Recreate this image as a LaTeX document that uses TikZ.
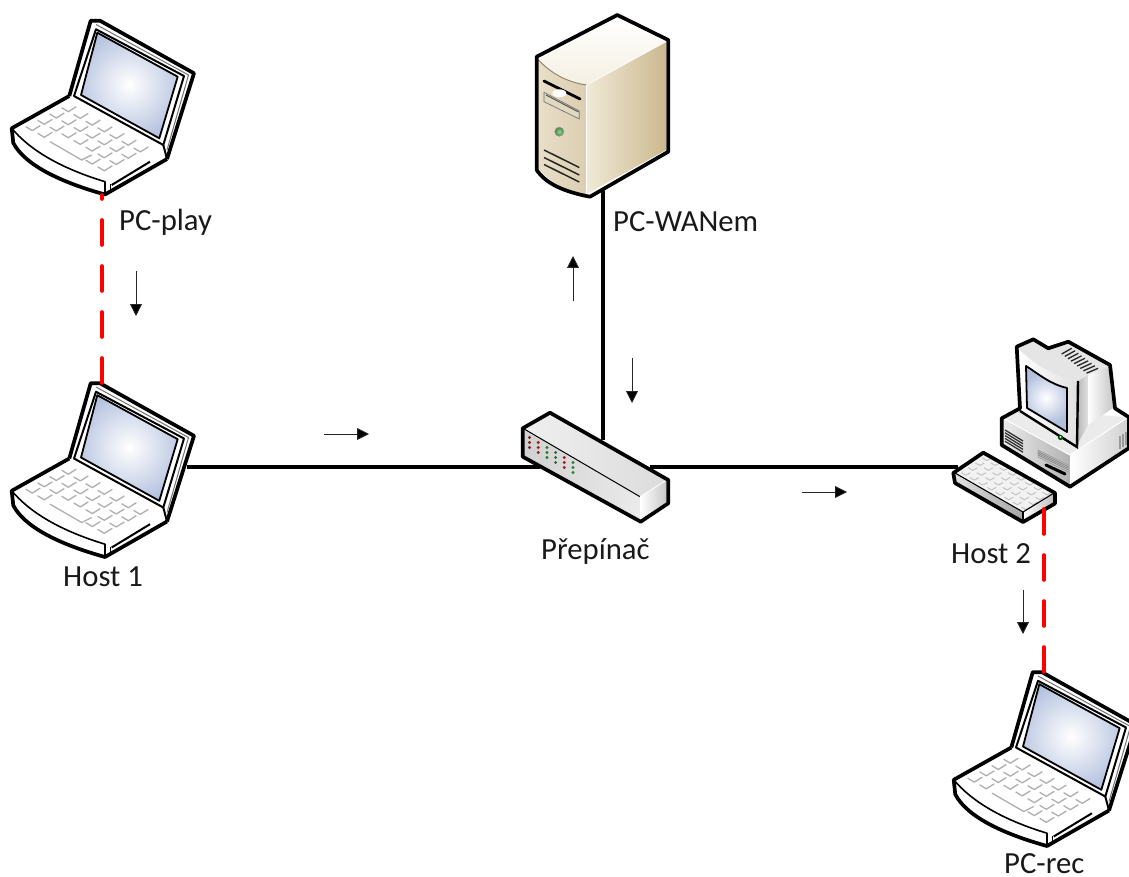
\documentclass[tikz,border=0pt]{standalone}
\usepackage{fontspec}
\setmainfont{Carlito}
\usetikzlibrary{arrows.meta}
\definecolor{keygrey}{RGB}{175,175,175}
\definecolor{tanA}{RGB}{240,233,214}
\definecolor{tanB}{RGB}{203,184,143}
\definecolor{screenblue}{RGB}{178,192,222}
\tikzset{
  blackline/.style={line width=3.2pt,black},
  redline/.style={line width=3.6pt,red,line cap=round,dash pattern=on 25pt off 21pt},
  flowarrow/.style={line width=0.9pt,draw=black!85,-{Triangle[length=12pt,width=12pt,fill=black]}},
  devlabel/.style={anchor=base west,inner sep=0pt,font=\fontsize{30.7pt}{34pt}\selectfont,text=black!90},
  outline/.style={line width=3.7pt,line join=round,draw=black},
  thin outline/.style={line width=2pt,line join=round,draw=black},
  keymark/.style={line width=1.3pt,draw=keygrey,line join=round},
  laptop/.pic={
    % silhouette
    \fill[white] (90.7,20.7)--(100,20.7)--(194,73.3)--(166.7,160)--(105,195)
      .. controls (60,182) and (25,165) .. (13.3,143)--(11.7,128.3)--(69.3,96)--cycle;
    % lid
    \draw[outline] (69.3,96)--(90.7,20.7)--(100,20.7)--(194,73.3)--(167,159);
    \draw[line width=1pt,black!55] (96,24.5)--(188.5,75)--(167,150);
    \draw[line width=2pt,line join=round] (74,96)--(96,29.3)--(184,76)--(163.3,145)--cycle;
    % screen
    \begin{scope}
      \clip (97.3,32.7)--(177.7,76.7)--(159.3,138.3)--(81,95)--cycle;
      \fill[screenblue] (70,20) rectangle (190,150);
      \shade[inner color=white,outer color=screenblue] (129,85) circle (58pt);
    \end{scope}
    \draw[line width=1.8pt,line join=round] (97.3,32.7)--(177.7,76.7)--(159.3,138.3)--(81,95)--cycle;
    % base
    \draw[line width=2pt] (163.3,145)--(167,159);
    \draw[outline] (69.3,96)--(11.7,128.3)--(13.3,143)
      .. controls (25,165) and (60,182) .. (105,194.5)--(167,159);
    \draw[line width=1.6pt,line join=round] (11.7,128.3) .. controls (30,150) and (60,168) .. (105,181.7)--(105,193);
    \draw[line width=2pt] (111.7,185)--(150,161.7);
    \draw[line width=1.4pt] (110.5,184)--(110.5,192);
    % keys
    \foreach \j in {0,1,2,3}{
      \foreach \i in {0,...,6}{
        \ifnum\j=3 \ifnum\i>1 \ifnum\i<5 \else
          \draw[keymark] ({68.3+12*\i-12*\j-6.7},{111.7+6.7*\i+6.3*\j-4})--++(6.7,4)--++(8,-5);
          \fi \else
          \draw[keymark] ({68.3+12*\i-12*\j-6.7},{111.7+6.7*\i+6.3*\j-4})--++(6.7,4)--++(8,-5);
          \fi
        \else
          \draw[keymark] ({68.3+12*\i-12*\j-6.7},{111.7+6.7*\i+6.3*\j-4})--++(6.7,4)--++(8,-5);
        \fi
      }
    }
    \draw[keymark] (50,141.7)--(81.7,160)--(91.7,155);
    \coordinate (-bottom) at (102,195);
  },
  server/.pic={
    \shade[top color=white,bottom color=tanA!70] (538.5,60)--(617,18)--(666,41.7)--(586.7,85)
      .. controls (565,82) and (550,72) .. (538.5,60)--cycle;
    \shade[left color=tanA!80!tanB,right color=tanB!70] (538.5,60) .. controls (550,72) and (565,82) .. (586.7,85)
      --(586.7,194) .. controls (565,190) and (548,182) .. (538.5,168)--cycle;
    \shade[left color=tanA,right color=tanB] (586.7,85)--(666,41.7)--(666,150)--(586.7,194)--cycle;
    \draw[line width=0.9pt,draw=tanB!70!black] (538.5,60) .. controls (550,72) and (565,82) .. (586.7,85);
    \draw[line width=0.9pt,white] (586.7,85)--(586.7,194);
    \draw[line width=0.7pt,white] (586.7,85)--(666,41.7);
    \fill[tanB!55,draw=black!55,line width=0.7pt] (544,92.3)--(579.3,111)--(579.3,119)--(544,101.7)--cycle;
    \draw[line width=0.9pt,black!70] (546,95)--(578.5,112);
    \draw[line width=2.8pt,line cap=round] (544,81)--(580,99);
    \fill[white!90!tanA] (559.3,93.3) ellipse (7pt and 4pt);
    \shade[inner color=green!35!white!85!black,outer color=green!30!black!70,draw=black!40,line width=.5pt] (559.3,131.7) circle (4.6pt);
    \foreach \yy in {150,157.5,164.5}{
      \draw[line width=1.5pt,black!85] (544,\yy)--(579.3,\yy+17.5);
    }
    \draw[outline] (536.7,56.7)--(617.3,15)--(668.3,40)--(668.3,151.7)--(590,196.7)
      .. controls (565,192) and (546,184) .. (536.7,170)--cycle;
  },
  desktop/.pic={
    % base
    \fill[white!92!black] (1003,418.3)--(1020,408.3)--(1128,417.3)--(1070,455)--cycle;
    \shade[left color=black!8,right color=black!30] (1003,418.3)--(1070,455)--(1070,486)--(1003,445)--cycle;
    \shade[left color=white,right color=black!18] (1070,455)--(1128,417.3)--(1128,447)--(1070,486)--cycle;
    \draw[line width=1pt,white] (1003,418.3)--(1070,455)--(1128,417.3);
    \foreach \t in {0,1,2,3,4}{
      \draw[line width=1.3pt,black!80] (1005,{430+2.8*\t})--(1023,{441+2.8*\t});
    }
    \fill[black!25,draw=black!40,line width=.5pt] (1038,450)--(1068,465)--(1068,472)--(1038,457)--cycle;
    \foreach \t in {1,2,3}{
      \draw[line width=.5pt,black!55] (1038,{450+1.6*\t})--(1068,{465+1.6*\t});
    }
    \draw[line width=3pt,line cap=round] (1046,465)--(1065,474);
    \foreach \t in {0,1,2}{
      \draw[line width=1.2pt,black!40] ({1120+3*\t},{436-2*\t})--({1120+3*\t},{449-2*\t});
    }
    % monitor
    \fill[white!90!black] (1017.5,348)--(1033.3,340)--(1048.3,349)--(1068.3,343)--(1108.5,366.5)--(1078,381)
      .. controls (1055,378) and (1035,365) .. (1017.5,348)--cycle;
    \shade[left color=black!28,right color=black!12] (1078,381)--(1088,375)--(1088,425)--(1077,445)--cycle;
    \shade[left color=white,right color=black!22] (1088,375)--(1108.5,366.5)--(1113,408)--(1088,425)--cycle;
    \shade[left color=white,right color=black!12] (1018.5,350) .. controls (1035,365) and (1055,378) .. (1078,381)
       --(1077,447)--(1020,411)--cycle;
    \begin{scope}
      \clip (1026,366) .. controls (1040,375) and (1050,384) .. (1067,388)--(1067,432)--(1027,408)--cycle;
      \fill[screenblue] (1020,360) rectangle (1075,435);
      \shade[inner color=white,outer color=screenblue] (1046,398) circle (26pt);
    \end{scope}
    \draw[line width=1.8pt,line join=round] (1026,366) .. controls (1040,375) and (1050,384) .. (1067,388)--(1067,432)--(1027,408)--cycle;
    \draw[line width=2.4pt] (1078,381)--(1077,447)--(1020,411);
    \fill[black!70!green] (1060.5,437.5) circle (2.6pt);
    \fill[white!70!green] (1060.5,437) circle (1.1pt);
    \foreach \t in {0,...,8}{
      \draw[line width=1.3pt,black!85] ({1061.7+3.1*\t},{354+2.4*\t})--({1071.7+3.3*\t},{348.3+2.5*\t});
    }
    \draw[outline] (1016.7,346.7)--(1033.3,339.3)--(1048.3,348.3)--(1068.3,341.7)--(1110,365)--(1115,408.3)
      --(1129,417.3)--(1129,448)--(1070,486.7)--(1001.7,445)--(1001.7,418.3)--(1020,408.3)--cycle;
    % keyboard
    \fill[white!95!black] (955,473)--(983.3,454)--(1054,493)--(1023,512)--cycle;
    \shade[left color=black!12,right color=black!35] (955,473)--(1023,512)--(1023,521)--(955,482)--cycle;
    \shade[left color=white,right color=black!25] (1023,512)--(1054,493)--(1054,503)--(1023,521)--cycle;
    \foreach \i in {0,...,7}{
      \foreach \j in {0,1,2,3}{
        \draw[line width=.9pt,black!25,line join=round] ({983.3+8.6*\i-7*\j-1},{458+4.9*\i+4.9*\j})--++(4.5,2.6)--++(4.5,-2.6);
      }
    }
    \draw[outline] (953.3,473)--(983.3,452.7)--(1055,493)--(1055,503.5)--(1023,522)--(955,483)--cycle;
    \draw[line width=1.1pt] (955,473)--(1023,512)--(1054,493);
    \draw[line width=1.1pt] (1023,512)--(1023,521);
    \coordinate (-bottom) at (1043.7,509);
  },
  switchbox/.pic={
    \shade[left color=black!6,right color=black!14] (523,428.3)--(550,414)--(666.7,480)--(640,496.7)--cycle;
    \shade[left color=black!18,right color=white!92!black] (523,428.3)--(640,496.7)--(640,520)--(523,455)--cycle;
    \shade[left color=white,right color=black!22] (640,496.7)--(666.7,480)--(666.7,503.3)--(640,520)--cycle;
    \draw[line width=1pt] (523,428.3)--(640,496.7);
    \draw[line width=.8pt,white] (640,496.7)--(666.7,480);
    \foreach \k/\c in {0/red!45!black,1/red!50!black,2/green!40!black,3/green!30!black,4/red!55!black,5/green!45!black}{
      \foreach \m in {-5,0,5}{
        \fill[\c,opacity=.85] ({529.5+8.7*\k},{442.5+5*\k+\m}) circle (1.6pt);
      }
    }
    \draw[outline] (522.7,428.3)--(550,412.7)--(668.3,480)--(668.3,503.3)--(640.7,521.7)--(522.7,456.7)--cycle;
  }
}
\begin{document}
\begin{tikzpicture}[x=1pt,y=-1pt]
\useasboundingbox (0,0) rectangle (1129,877);
% coordinates of the connectors, under the icons
\coordinate (h1east) at (187,467);
\coordinate (swwest) at (540,467);
\coordinate (sweast) at (650,467);
\coordinate (swnorth) at (603,440);
\coordinate (srvbottom) at (603,189);
\coordinate (hstwest) at (958,467);
\draw[blackline] (h1east)--(swwest);
\draw[blackline] (sweast)--(hstwest);
\draw[blackline] (srvbottom)--(swnorth);
% icons
\pic (server1) at (0,0) {server};
\pic (switch1) at (0,0) {switchbox};
\pic (host2) at (0,0) {desktop};
\pic (pcplay) at (0,0) {laptop};
\pic (host1) at (0,362.5) {laptop};
\pic (pcrec) at (942,651.5) {laptop};
% red links
\coordinate (h1top) at (102,385);
\coordinate (rectop) at (1043.7,675);
\draw[redline,dash phase=21pt] (pcplay-bottom)--(h1top);
\draw[redline] (host2-bottom)--(rectop);
% flow arrows
\coordinate (a1s) at (136,271); \coordinate (a1e) at (136,316);
\coordinate (a2s) at (324,434); \coordinate (a2e) at (369,434);
\coordinate (a3s) at (573,301); \coordinate (a3e) at (573,256);
\coordinate (a4s) at (632,358); \coordinate (a4e) at (632,403);
\coordinate (a5s) at (802,492); \coordinate (a5e) at (847,492);
\coordinate (a6s) at (1023,590); \coordinate (a6e) at (1023,634);
\draw[flowarrow] (a1s)--(a1e);
\draw[flowarrow] (a2s)--(a2e);
\draw[flowarrow] (a3s)--(a3e);
\draw[flowarrow] (a4s)--(a4e);
\draw[flowarrow] (a5s)--(a5e);
\draw[flowarrow] (a6s)--(a6e);
% labels
\node[devlabel] (lplay) at (119,231) {PC-play};
\node[devlabel] (lh1) at (63,586) {Host 1};
\node[devlabel] (lwan) at (613,231.5) {PC-WANem};
\node[devlabel] (lsw) at (541,559) {Přepínač};
\node[devlabel] (lh2) at (951,563) {Host 2};
\node[devlabel] (lrec) at (1004,873) {PC-rec};
\end{tikzpicture}
\end{document}
